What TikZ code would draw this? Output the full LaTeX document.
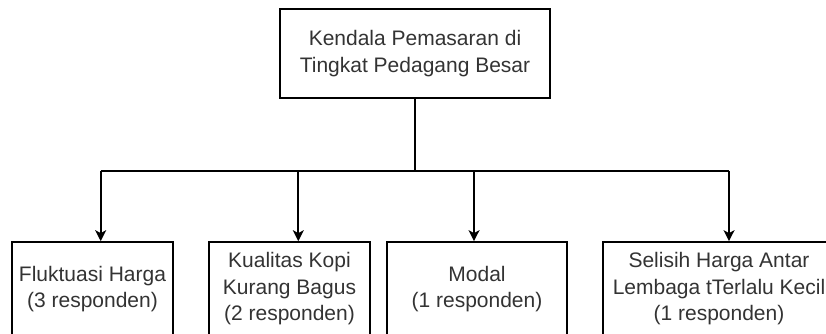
\documentclass[tikz,border=0pt]{standalone}
\usepackage{fontspec}
\setmainfont{Liberation Sans}
\usetikzlibrary{arrows.meta}
\definecolor{teks}{HTML}{333333}

\begin{document}
\begin{tikzpicture}[x=1pt, y=-1pt, >={Stealth[length=11pt, width=11pt, inset=3pt]},
    kotak/.style={draw, line width=1.7pt, align=center, inner sep=0pt, text=teks,
        font=\fontsize{21}{26.5}\selectfont},
    garis/.style={line width=1.7pt}]

% parameter
\def\yb{170.7}    % tinggi garis cabang
\def\yk{289}      % pusat kotak bawah

\useasboundingbox (0,0) rectangle (826,334);

%========================
% kotak utama
%========================
\node[kotak, minimum width=270pt, minimum height=89pt] (utama) at (415,53.5)
    {Kendala Pemasaran di\\Tingkat Pedagang Besar};

%========================
% kotak kendala
%========================
\node[kotak, minimum width=161pt, minimum height=94pt] (harga) at (92.5,\yk)
    {Fluktuasi Harga\\(3 responden)};
\node[kotak, minimum width=161pt, minimum height=94pt] (kualitas) at (289.5,\yk)
    {Kualitas Kopi\\Kurang Bagus\\(2 responden)};
\node[kotak, minimum width=180pt, minimum height=94pt] (modal) at (477,\yk)
    {Modal\\(1 responden)};
\node[kotak, minimum width=232pt, minimum height=94pt] (selisih) at (719,\yk)
    {Selisih Harga Antar\\Lembaga tTerlalu Kecil\\(1 responden)};

%========================
% titik cabang
%========================
\coordinate (c1) at (100.7,\yb);
\coordinate (c2) at (298.3,\yb);
\coordinate (c3) at (474,\yb);
\coordinate (c4) at (729,\yb);

%========================
% garis penghubung
%========================
\draw[garis] (utama.south) -- (utama.south |- c1);
\draw[garis] (c1) -- (c4);
\draw[garis, ->] (c1) -- (c1 |- harga.north);
\draw[garis, ->] (c2) -- (c2 |- kualitas.north);
\draw[garis, ->] (c3) -- (c3 |- modal.north);
\draw[garis, ->] (c4) -- (c4 |- selisih.north);

\end{tikzpicture}
\end{document}
